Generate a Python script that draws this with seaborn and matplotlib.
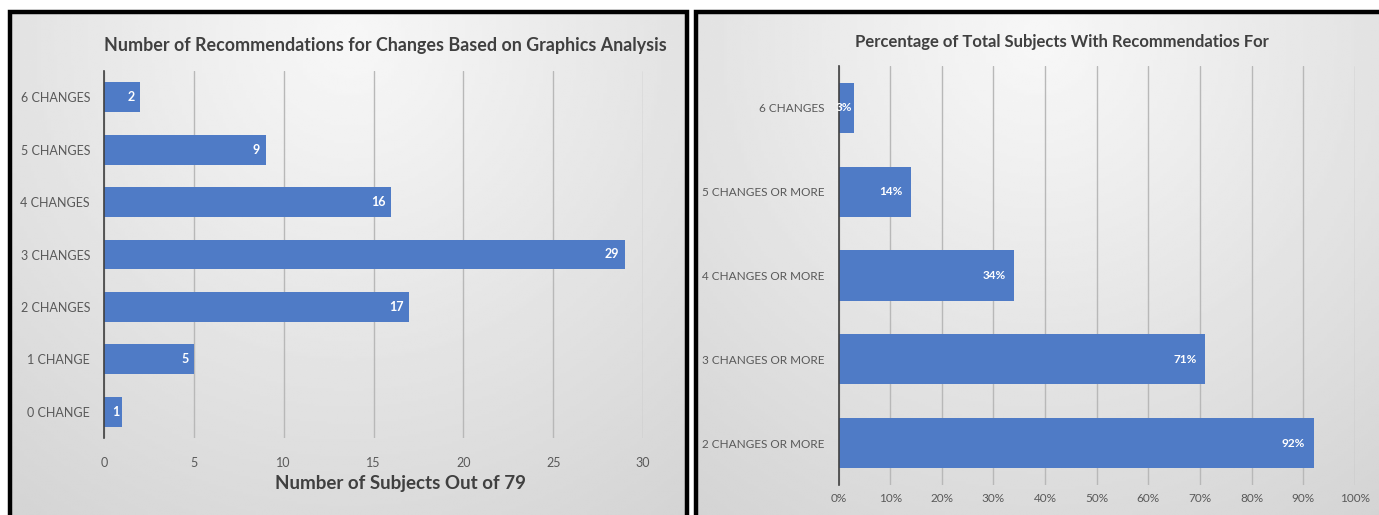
import numpy as np
import pandas as pd
import matplotlib
matplotlib.use("Agg")
import matplotlib.pyplot as plt
from matplotlib.patches import Rectangle
import seaborn as sns

# ---- data ----
left_categories = ["6 CHANGES", "5 CHANGES", "4 CHANGES", "3 CHANGES",
                   "2 CHANGES", "1 CHANGE", "0 CHANGE"]
left_values = [2, 9, 16, 29, 17, 5, 1]
left_ticks = [0, 5, 10, 15, 20, 25, 30]

right_categories = ["6 CHANGES", "5 CHANGES OR MORE", "4 CHANGES OR MORE",
                    "3 CHANGES OR MORE", "2 CHANGES OR MORE"]
right_values = [3, 14, 34, 71, 92]
right_ticks = [0, 10, 20, 30, 40, 50, 60, 70, 80, 90, 100]

left_title = "Number of Recommendations for Changes Based on Graphics Analysis"
left_xlabel = "Number of Subjects Out of 79"
right_title = "Percentage of Total Subjects With Recommendatios For"

sns.set_theme(style="white")
plt.rcParams['font.family'] = ['Lato', 'DejaVu Sans']

BAR = "#4f7bc6"
TICK = "#595959"
TITLE = "#404040"
GRID = "#b8b8b8"

W, H = 1379, 515
fig = plt.figure(figsize=(W / 100, H / 100), dpi=100)
fig.patch.set_facecolor("white")


def fx(px):
    return px / W


def fy(py):
    return 1 - py / H


def panel_bg(x0, x1, y0, y1):
    bg = fig.add_axes([fx(x0), fy(y1), fx(x1) - fx(x0), fy(y0) - fy(y1)])
    yy, xx = np.mgrid[0:1:200j, 0:1:200j]
    r = np.sqrt(((xx - 0.5) / 0.8) ** 2 + ((yy - 0.05) / 1.1) ** 2)
    val = 0.97 - 0.13 * np.clip(r, 0, 1.2)
    bg.imshow(val, cmap="gray", vmin=0, vmax=1, aspect="auto",
              extent=[0, 1, 1, 0], interpolation="bilinear")
    bg.set_axis_off()
    return bg


panel_bg(12, 686, 14, 515)
panel_bg(698, 1379, 14, 515)

# black borders
for (x0, x1) in [(8, 689), (694, 1385)]:
    r = Rectangle((fx(x0 + 2), fy(520)), fx(x1 - x0 - 4), fy(12) - fy(520),
                  transform=fig.transFigure, fill=False, edgecolor="black",
                  linewidth=3.2, zorder=10)
    fig.patches.append(r)

# ---- left chart ----
axL = fig.add_axes([fx(104), fy(438), fx(643) - fx(104), fy(71) - fy(438)])
axL.patch.set_alpha(0)
dfL = pd.DataFrame({"cat": left_categories, "val": left_values})
sns.barplot(data=dfL, x="val", y="cat", order=left_categories, color=BAR,
            saturation=1, width=0.57, ax=axL, zorder=3, linewidth=0)
axL.set_xlim(0, 30)
axL.set_xticks(left_ticks)
axL.xaxis.grid(True, color=GRID, linewidth=1.0)
axL.set_axisbelow(True)
for s in ["top", "right", "bottom"]:
    axL.spines[s].set_visible(False)
axL.spines["left"].set_color("#404040")
axL.spines["left"].set_linewidth(1.2)
axL.spines["left"].set_zorder(5)
axL.tick_params(axis="x", length=0, pad=14, labelsize=9, labelcolor=TICK)
axL.tick_params(axis="y", length=0, pad=10, labelsize=9, labelcolor=TICK)
axL.set_ylabel("")
axL.set_xlabel(left_xlabel, fontsize=13.5, fontweight="bold", color=TITLE)
axL.xaxis.set_label_coords(0.551, -0.125)
axL.xaxis.label.set_verticalalignment("center")
for i, v in enumerate(left_values):
    off = -4 if v > 1 else -1.5
    axL.annotate(str(v), xy=(v, i), xytext=(off, 0), textcoords="offset points",
                 ha="right", va="center", color="white", fontweight="bold",
                 fontsize=9, zorder=6)
fig.text(fx(385), fy(45), left_title, ha="center", va="center",
         fontsize=12.9, fontweight="bold", color=TITLE)

# ---- right chart ----
axR = fig.add_axes([fx(838.5), fy(485), fx(1355) - fx(838.5), fy(66) - fy(485)])
axR.patch.set_alpha(0)
dfR = pd.DataFrame({"cat": right_categories, "val": right_values})
sns.barplot(data=dfR, x="val", y="cat", order=right_categories, color=BAR,
            saturation=1, width=0.6, ax=axR, zorder=3, linewidth=0)
axR.set_xlim(0, 100)
axR.set_xticks(right_ticks)
axR.set_xticklabels([f"{t}%" for t in right_ticks])
axR.xaxis.grid(True, color=GRID, linewidth=1.0)
axR.set_axisbelow(True)
for s in ["top", "right", "bottom"]:
    axR.spines[s].set_visible(False)
axR.spines["left"].set_color("#404040")
axR.spines["left"].set_linewidth(1.2)
axR.spines["left"].set_zorder(5)
axR.tick_params(axis="x", length=0, pad=6, labelsize=8.5, labelcolor=TICK)
axR.tick_params(axis="y", length=0, pad=10, labelsize=8.5, labelcolor=TICK)
axR.set_ylabel("")
axR.set_xlabel("")
for i, v in enumerate(right_values):
    off = -6 if v > 5 else -1
    axR.annotate(f"{v}%", xy=(v, i), xytext=(off, 0), textcoords="offset points",
                 ha="right", va="center", color="white", fontweight="bold",
                 fontsize=8.5, zorder=6)
fig.text(fx(1062), fy(42), right_title, ha="center", va="center",
         fontsize=12, fontweight="bold", color=TITLE)

fig.savefig("out.png", dpi=100, facecolor="white")
